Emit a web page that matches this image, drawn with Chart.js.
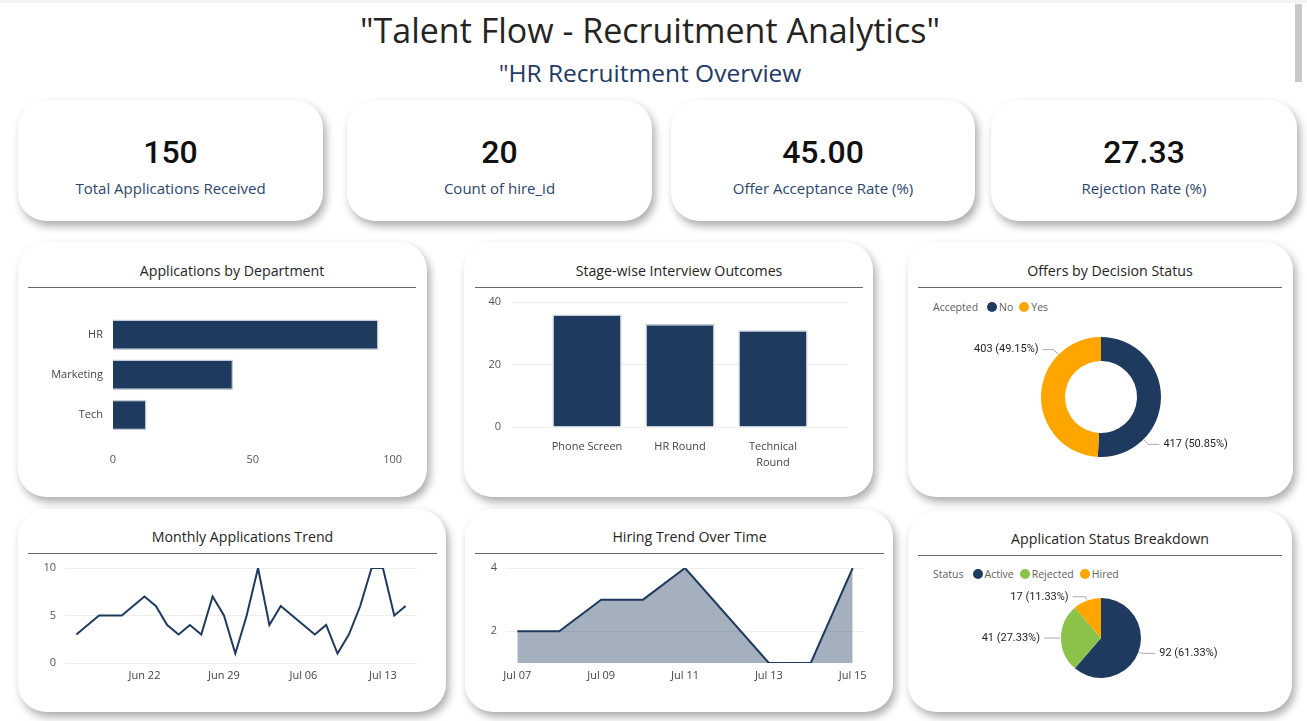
<!DOCTYPE html>
<html><head><meta charset="utf-8">
<script src="https://cdn.jsdelivr.net/npm/chart.js@4.4.0/dist/chart.umd.min.js"></script>
<style>
body{margin:0;width:1307px;height:721px;background:#fff;overflow:hidden;position:relative;font-family:"Open Sans",sans-serif;}
.card{position:absolute;background:#fff;border-radius:28px;box-shadow:3px 5px 8px rgba(0,0,0,0.33);}
.abs{position:absolute;}
.title{left:0;width:1300px;text-align:center;top:7px;font-size:34px;color:#252423;line-height:46px;}
.sub{left:0;width:1300px;text-align:center;top:56px;font-size:24.5px;color:#1e3a66;line-height:34px;}
.kv{position:absolute;left:0;right:0;text-align:center;top:33px;font-family:Roboto,sans-serif;font-weight:500;font-size:32px;color:#111;line-height:38px;}
.kl{position:absolute;left:0;right:0;text-align:center;top:77px;font-size:15px;color:#2b466e;line-height:22px;}
.ct{position:absolute;text-align:center;font-size:14.2px;color:#252423;line-height:20px;}
.hl{position:absolute;height:1px;background:#666;}
canvas{position:absolute;}
.leg{position:absolute;font-size:10.5px;color:#605e5c;display:flex;align-items:center;line-height:14px;white-space:nowrap;}
.leg .dot{display:inline-block;width:10px;height:10px;border-radius:50%;margin:0 2px 0 0;}
.leg .it{display:flex;align-items:center;margin-right:6px;}
.leg .lt{margin-right:9px;}
.scroll{left:1295px;top:4px;width:7px;height:78px;background:#c8c8c8;}
.topline{left:0;top:0;width:1307px;height:3px;background:#f3f3f3;}
</style></head>
<body>
<div class="abs topline"></div>
<div class="abs scroll"></div>
<div class="abs title">"Talent Flow - Recruitment Analytics"</div>
<div class="abs sub">"HR Recruitment Overview</div>

<div class="card" id="k0" style="left:18px;top:100px;width:305px;height:121px"></div>
<div class="card" id="k1" style="left:347px;top:100px;width:305px;height:121px"></div>
<div class="card" id="k2" style="left:671px;top:100px;width:304px;height:121px"></div>
<div class="card" id="k3" style="left:991px;top:100px;width:306px;height:121px"></div>

<div class="card" style="left:18px;top:242px;width:409px;height:255px"></div>
<div class="card" style="left:464px;top:242px;width:409px;height:255px"></div>
<div class="card" style="left:908px;top:242px;width:385px;height:255px"></div>
<div class="card" style="left:18px;top:509px;width:428px;height:203px"></div>
<div class="card" style="left:465px;top:509px;width:428px;height:203px"></div>
<div class="card" style="left:908px;top:511px;width:384px;height:201px"></div>

<div class="ct" style="left:38px;width:388px;top:261px">Applications by Department</div>
<div class="hl" style="left:28px;width:388px;top:287px"></div>
<div class="ct" style="left:485px;width:388px;top:261px">Stage-wise Interview Outcomes</div>
<div class="hl" style="left:475px;width:388px;top:287px"></div>
<div class="ct" style="left:928px;width:364px;top:261px">Offers by Decision Status</div>
<div class="hl" style="left:918px;width:364px;top:287px"></div>
<div class="ct" style="left:38px;width:409px;top:527px">Monthly Applications Trend</div>
<div class="hl" style="left:28px;width:409px;top:553px"></div>
<div class="ct" style="left:485px;width:409px;top:527px">Hiring Trend Over Time</div>
<div class="hl" style="left:475px;width:409px;top:553px"></div>
<div class="ct" style="left:928px;width:364px;top:529px">Application Status Breakdown</div>
<div class="hl" style="left:918px;width:364px;top:555px"></div>

<div class="leg" id="legOffer" style="left:933px;top:300px"></div>
<div class="leg" id="legStatus" style="left:933px;top:567px"></div>

<canvas id="cDept" width="392" height="180" style="left:28px;top:298px"></canvas>
<canvas id="cStage" width="390" height="190" style="left:474px;top:292px"></canvas>
<canvas id="cOffer" width="300" height="150" style="left:951px;top:322px"></canvas>
<canvas id="cMonthly" width="410" height="130" style="left:28px;top:558px"></canvas>
<canvas id="cHiring" width="412" height="130" style="left:475px;top:558px"></canvas>
<canvas id="cStatus" width="300" height="140" style="left:951px;top:568px"></canvas>

<script>
// ---------- data ----------
const kpiValues = ['150', '20', '45.00', '27.33'];
const kpiLabels = ['Total Applications Received', 'Count of hire_id', 'Offer Acceptance Rate (%)', 'Rejection Rate (%)'];

const deptCategories = ['HR', 'Marketing', 'Tech'];
const deptApplications = [95, 43, 12];

const stageCategories = ['Phone Screen', 'HR Round', 'Technical Round'];
const stageCounts = [36, 33, 31];

const offerLegendTitle = 'Accepted';
const offerLabels = ['No', 'Yes'];
const offerCounts = [417, 403];

const statusLegendTitle = 'Status';
const statusLabels = ['Active', 'Rejected', 'Hired'];
const statusCounts = [92, 41, 17];

const monthlyDates = ['Jun 16','Jun 17','Jun 18','Jun 19','Jun 20','Jun 21','Jun 22','Jun 23','Jun 24','Jun 25',
  'Jun 26','Jun 27','Jun 28','Jun 29','Jun 30','Jul 01','Jul 02','Jul 03','Jul 04','Jul 05',
  'Jul 06','Jul 07','Jul 08','Jul 09','Jul 10','Jul 11','Jul 12','Jul 13','Jul 14','Jul 15'];
const monthlyApplications = [3,4,5,5,5,6,7,6,4,3, 4,3,7,5,1,5,10,4,6,5, 4,3,4,1,3,6,10,10,5,6];
const monthlyTickLabels = ['Jun 22', 'Jun 29', 'Jul 06', 'Jul 13'];
const monthlyYTicks = [0, 5, 10];

const hiringDates = ['Jul 07','Jul 08','Jul 09','Jul 10','Jul 11','Jul 13','Jul 14','Jul 15'];
const hiringCounts = [2, 2, 3, 3, 4, 1, 1, 4];
const hiringTickLabels = ['Jul 07', 'Jul 09', 'Jul 11', 'Jul 13', 'Jul 15'];
const hiringYTicks = [2, 4];

// ---------- style ----------
const NAVY = '#1f3a5f', ORANGE = '#ffa500', GREEN = '#8bc34a';
const offerColors = [NAVY, ORANGE];
const statusColors = [NAVY, GREEN, ORANGE];

Chart.defaults.font.family = "'Open Sans', sans-serif";
Chart.defaults.font.size = 11;
Chart.defaults.color = '#555';
Chart.defaults.animation = false;

// KPI cards
kpiValues.forEach((v, i) => {
  const c = document.getElementById('k' + i);
  c.innerHTML = '<div class="kv">' + v + '</div><div class="kl">' + kpiLabels[i] + '</div>';
});

// legends
function buildLegend(id, title, labels, colors) {
  const el = document.getElementById(id);
  let h = '<span class="lt">' + title + '</span>';
  labels.forEach((l, i) => { h += '<span class="it"><span class="dot" style="background:' + colors[i] + '"></span>' + l + '</span>'; });
  el.innerHTML = h;
}
buildLegend('legOffer', offerLegendTitle, offerLabels, offerColors);
buildLegend('legStatus', statusLegendTitle, statusLabels, statusColors);

// date helpers
const MONTHS = {Jan:0,Feb:1,Mar:2,Apr:3,May:4,Jun:5,Jul:6,Aug:7,Sep:8,Oct:9,Nov:10,Dec:11};
function dayNum(s) { const p = s.split(' '); return Date.UTC(2024, MONTHS[p[0]], parseInt(p[1], 10)) / 864e5; }
function tickMap(labels) { const m = {}; labels.forEach(l => m[dayNum(l)] = l); return m; }

// fixed-width vertical axis without the extra label padding at top/bottom
function fixY(w) { return function (s) { s.width = w; s.paddingTop = 0; s.paddingBottom = 0; }; }

// outside labels plugin for pie / donut
const outLabels = {
  id: 'outLabels',
  afterDatasetsDraw(chart, args, opts) {
    const ctx = chart.ctx, meta = chart.getDatasetMeta(0), data = chart.data.datasets[0].data;
    const total = data.reduce((a, b) => a + b, 0);
    const elbow = opts.elbow || 5, arm = opts.arm || 12;
    ctx.save();
    meta.data.forEach((arc, i) => {
      const p = arc.getProps(['x', 'y', 'startAngle', 'endAngle', 'outerRadius'], true);
      let a = (p.startAngle + p.endAngle) / 2;
      if (opts.diagonal) a = Math.PI / 4 + Math.PI / 2 * Math.round((a - Math.PI / 4) / (Math.PI / 2));
      const c = Math.cos(a), s = Math.sin(a);
      const x1 = p.x + c * (p.outerRadius + 1), y1 = p.y + s * (p.outerRadius + 1);
      const x2 = p.x + c * (p.outerRadius + elbow), y2 = p.y + s * (p.outerRadius + elbow);
      const dir = c >= -0.01 ? 1 : -1;
      const x3 = x2 + dir * arm;
      ctx.strokeStyle = '#aaaaaa'; ctx.lineWidth = 1;
      ctx.beginPath(); ctx.moveTo(x1, y1); ctx.lineTo(x2, y2); ctx.lineTo(x3, y2); ctx.stroke();
      ctx.fillStyle = '#252423'; ctx.font = '11px Roboto, sans-serif'; ctx.textBaseline = 'middle';
      ctx.textAlign = dir > 0 ? 'left' : 'right';
      const txt = data[i] + ' (' + (data[i] / total * 100).toFixed(2) + '%)';
      ctx.fillText(txt, x3 + dir * 4, y2);
    });
    ctx.restore();
  }
};

// Applications by Department
new Chart(document.getElementById('cDept'), {
  type: 'bar',
  data: { labels: deptCategories, datasets: [{ data: deptApplications, backgroundColor: NAVY, borderColor: '#c3cbd6', borderWidth: 1.5, categoryPercentage: 0.8, barPercentage: 0.95 }] },
  options: {
    indexAxis: 'y', responsive: false, devicePixelRatio: 1,
    layout: { padding: { top: 13, right: 27, left: 0, bottom: 0 } },
    plugins: { legend: { display: false }, tooltip: { enabled: false } },
    scales: {
      x: { min: 0, max: 100, ticks: { stepSize: 50, padding: 18, color: '#555' }, grid: { display: false, drawTicks: false }, border: { display: false }, afterFit(s) { s.height = 43; } },
      y: { ticks: { padding: 10, color: '#444' }, grid: { display: false, drawTicks: false }, border: { display: false }, afterFit(s) { s.width = 85; } }
    }
  }
});

// Stage-wise Interview Outcomes (bars placed on a numeric index axis so the plot keeps side margins)
const stageIdx = stageCategories.map((c, i) => i);
new Chart(document.getElementById('cStage'), {
  type: 'bar',
  data: { datasets: [{ data: stageIdx.map(i => ({ x: i, y: stageCounts[i] })), backgroundColor: NAVY, borderColor: '#c3cbd6', borderWidth: 1.5, categoryPercentage: 0.8, barPercentage: 0.93 }] },
  options: {
    responsive: false, devicePixelRatio: 1,
    layout: { padding: { top: 10, right: 16, left: 0, bottom: 0 } },
    plugins: { legend: { display: false }, tooltip: { enabled: false } },
    scales: {
      x: { type: 'linear', offset: false, min: -0.807, max: stageCategories.length - 1 + 0.807,
        afterBuildTicks(s) { s.ticks = stageIdx.map(v => ({ value: v })); },
        ticks: { autoSkip: false, padding: 12, color: '#444', maxRotation: 0, font: { lineHeight: 1.45 },
          callback(v) { const l = stageCategories[v]; return l && l.length > 12 ? l.split(' ') : l; } },
        grid: { display: false, drawTicks: false, offset: false }, border: { display: false }, afterFit(s) { s.height = 55; } },
      y: { min: 0, max: 40, ticks: { stepSize: 20, padding: 11, color: '#555' }, grid: { color: '#eeeeee', drawTicks: false }, border: { display: false }, afterFit: fixY(38) }
    }
  }
});

// Offers by Decision Status (donut)
new Chart(document.getElementById('cOffer'), {
  type: 'doughnut',
  data: { labels: offerLabels, datasets: [{ data: offerCounts, backgroundColor: offerColors, borderWidth: 0 }] },
  options: {
    responsive: false, devicePixelRatio: 1, cutout: '60%',
    layout: { padding: { top: 15, bottom: 15, left: 90, right: 90 } },
    plugins: { legend: { display: false }, tooltip: { enabled: false }, outLabels: { diagonal: true, elbow: 7, arm: 11 } }
  },
  plugins: [outLabels]
});

// Application Status Breakdown (pie)
new Chart(document.getElementById('cStatus'), {
  type: 'pie',
  data: { labels: statusLabels, datasets: [{ data: statusCounts, backgroundColor: statusColors, borderWidth: 0 }] },
  options: {
    responsive: false, devicePixelRatio: 1,
    layout: { padding: { top: 30, bottom: 30, left: 110, right: 110 } },
    plugins: { legend: { display: false }, tooltip: { enabled: false }, outLabels: { diagonal: false, elbow: 4, arm: 13 } }
  },
  plugins: [outLabels]
});

// Monthly Applications Trend
const mTicks = tickMap(monthlyTickLabels);
const mX = monthlyDates.map(dayNum);
new Chart(document.getElementById('cMonthly'), {
  type: 'line',
  data: { datasets: [{ data: monthlyDates.map((d, i) => ({ x: mX[i], y: monthlyApplications[i] })), borderColor: NAVY, borderWidth: 2, pointRadius: 0, tension: 0, fill: false }] },
  options: {
    responsive: false, devicePixelRatio: 1,
    layout: { padding: { top: 10, right: 21, left: 0, bottom: 0 } },
    plugins: { legend: { display: false }, tooltip: { enabled: false } },
    scales: {
      x: { type: 'linear', min: mX[0] - 1, max: mX[mX.length - 1] + 1,
        afterBuildTicks(s) { s.ticks = monthlyTickLabels.map(l => ({ value: dayNum(l) })); },
        ticks: { autoSkip: false, maxRotation: 0, padding: 6, color: '#444', callback: v => mTicks[v] },
        grid: { display: false, drawTicks: false }, border: { display: false }, afterFit(s) { s.height = 25; } },
      y: { min: 0, max: 10, afterBuildTicks(s) { s.ticks = monthlyYTicks.map(v => ({ value: v })); },
        ticks: { padding: 9, color: '#555' }, grid: { color: '#eeeeee', drawTicks: false }, border: { display: false }, afterFit: fixY(37) }
    }
  }
});

// Hiring Trend Over Time
const hTicks = tickMap(hiringTickLabels);
const hX = hiringDates.map(dayNum);
new Chart(document.getElementById('cHiring'), {
  type: 'line',
  data: { datasets: [{ data: hiringDates.map((d, i) => ({ x: hX[i], y: hiringCounts[i] })), borderColor: NAVY, borderWidth: 2, pointRadius: 0, tension: 0, fill: 'start', backgroundColor: 'rgba(31,58,95,0.4)' }] },
  options: {
    responsive: false, devicePixelRatio: 1,
    layout: { padding: { top: 10, right: 23, left: 0, bottom: 0 } },
    plugins: { legend: { display: false }, tooltip: { enabled: false } },
    scales: {
      x: { type: 'linear', min: hX[0] - 0.27, max: hX[hX.length - 1] + 0.27,
        afterBuildTicks(s) { s.ticks = hiringTickLabels.map(l => ({ value: dayNum(l) })); },
        ticks: { autoSkip: false, maxRotation: 0, padding: 6, color: '#444', callback: v => hTicks[v] },
        grid: { display: false, drawTicks: false }, border: { display: false }, afterFit(s) { s.height = 25; } },
      y: { min: 1, max: 4, afterBuildTicks(s) { s.ticks = hiringYTicks.map(v => ({ value: v })); },
        ticks: { padding: 9, color: '#555' }, grid: { color: '#eeeeee', drawTicks: false }, border: { display: false }, afterFit: fixY(31) }
    }
  }
});
</script>
</body></html>
